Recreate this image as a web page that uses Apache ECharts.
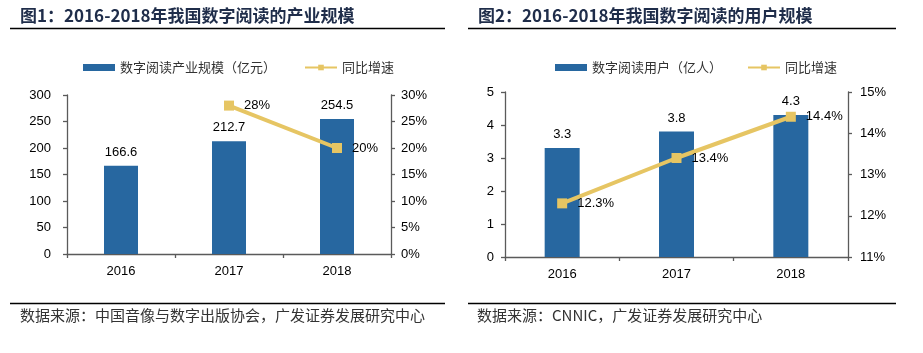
<!DOCTYPE html>
<html><head><meta charset="utf-8">
<script src="https://cdn.jsdelivr.net/npm/echarts@6/dist/echarts.min.js"></script>
<style>
html,body{margin:0;padding:0;background:#fff;}
#c1{position:absolute;left:0;top:0;width:460px;height:353px;}
#c2{position:absolute;left:460px;top:0;width:463px;height:353px;}
</style></head>
<body><div id="c1"></div><div id="c2"></div>
<script>
// ---- data ----
const years = ['2016', '2017', '2018'];
const title1 = '图1：2016-2018年我国数字阅读的产业规模';
const barName1 = '数字阅读产业规模（亿元）';
const barValues1 = [166.6, 212.7, 254.5];
const lineName = '同比增速';
const lineValues1 = [null, 28, 20];
const source1 = '数据来源：中国音像与数字出版协会，广发证券发展研究中心';

const title2 = '图2：2016-2018年我国数字阅读的用户规模';
const barName2 = '数字阅读用户（亿人）';
const barValues2 = [3.3, 3.8, 4.3];
const lineValues2 = [12.3, 13.4, 14.4];
const source2 = '数据来源：CNNIC，广发证券发展研究中心';

const BLUE = '#2767A0', GOLD = '#E6C563', AXIS = '#5a5a5a';
const NUMFONT = 'Liberation Sans, Arial, sans-serif';
const CJK = '"Noto Sans CJK SC", sans-serif';

function build(cfg) {
  const axisCommon = {
    axisLine: { show: true, lineStyle: { color: AXIS, width: 1.3 } },
    axisTick: { show: true, length: 4, lineStyle: { color: AXIS, width: 1.3 } },
    splitLine: { show: false },
  };
  return {
    animation: false,
    backgroundColor: '#fff',
    graphic: [
      { type: 'text', left: cfg.titleX, top: 7, style: { text: cfg.title, font: 'bold 17px ' + CJK, fill: '#1F2D4A' } },
      { type: 'line', shape: { x1: cfg.lineX1, y1: 28.5, x2: cfg.lineX2, y2: 28.5 }, style: { stroke: '#000', lineWidth: 1.5 } },
      { type: 'line', shape: { x1: cfg.lineX1, y1: 303.5, x2: cfg.lineX2, y2: 303.5 }, style: { stroke: '#000', lineWidth: 1.5 } },
      { type: 'text', left: cfg.srcX, top: 308, style: { text: cfg.source, font: '15px ' + CJK, fill: '#333' } },
    ],
    legend: {
      left: cfg.legendX, top: 56, itemWidth: 32, itemHeight: 7, itemGap: cfg.legendGap,
      textStyle: { fontFamily: CJK, fontSize: 13, color: '#333' },
      data: [{ name: cfg.barName, icon: 'rect' }, { name: lineName }]
    },
    grid: cfg.grid,
    xAxis: Object.assign({}, axisCommon, {
      type: 'category', data: years,
      axisLabel: { fontFamily: NUMFONT, fontSize: 13, color: '#000', margin: 11 },
    }),
    yAxis: [
      Object.assign({}, axisCommon, {
        type: 'value', min: cfg.yMin, max: cfg.yMax, interval: cfg.yInt, position: 'left',
        axisLabel: { fontFamily: NUMFONT, fontSize: 13, color: '#000', margin: cfg.lMargin },
      }),
      Object.assign({}, axisCommon, {
        type: 'value', min: cfg.rMin, max: cfg.rMax, interval: cfg.rInt, position: 'right',
        axisLabel: { fontFamily: NUMFONT, fontSize: 13, color: '#000', margin: cfg.rMargin, formatter: '{value}%' },
      }),
    ],
    series: [
      {
        name: cfg.barName, type: 'bar', data: cfg.bars, barWidth: cfg.barWidth,
        itemStyle: { color: BLUE },
        label: { show: true, position: 'top', distance: 7, fontFamily: NUMFONT, fontSize: 13, color: '#000' },
      },
      {
        name: lineName, type: 'line', yAxisIndex: 1, data: cfg.lines,
        symbol: 'rect', symbolSize: 10,
        lineStyle: { color: GOLD, width: 4 }, itemStyle: { color: GOLD },
        label: { show: true, position: 'right', distance: 10, fontFamily: NUMFONT, fontSize: 13, color: '#000', formatter: '{c}%' },
        z: 5,
      },
    ],
  };
}

const chart1 = echarts.init(document.getElementById('c1'));
chart1.setOption(build({
  title: title1, titleX: 20, lineX1: 10, lineX2: 445, source: source1, srcX: 20,
  legendX: 78, legendGap: 28, barName: barName1,
  grid: { left: 67, right: 69, top: 95, bottom: 99 },
  yMin: 0, yMax: 300, yInt: 50, lMargin: 16,
  rMin: 0, rMax: 30, rInt: 5, rMargin: 10,
  bars: barValues1, lines: lineValues1, barWidth: 34,
}));

const chart2 = echarts.init(document.getElementById('c2'));
chart2.setOption(build({
  title: title2, titleX: 18, lineX1: 8, lineX2: 436, source: source2, srcX: 17,
  legendX: 90, legendGap: 25, barName: barName2,
  grid: { left: 45, right: 75, top: 92, bottom: 96 },
  yMin: 0, yMax: 5, yInt: 1, lMargin: 11,
  rMin: 11, rMax: 15, rInt: 1, rMargin: 12,
  bars: barValues2, lines: lineValues2, barWidth: 35,
}));
</script></body></html>
